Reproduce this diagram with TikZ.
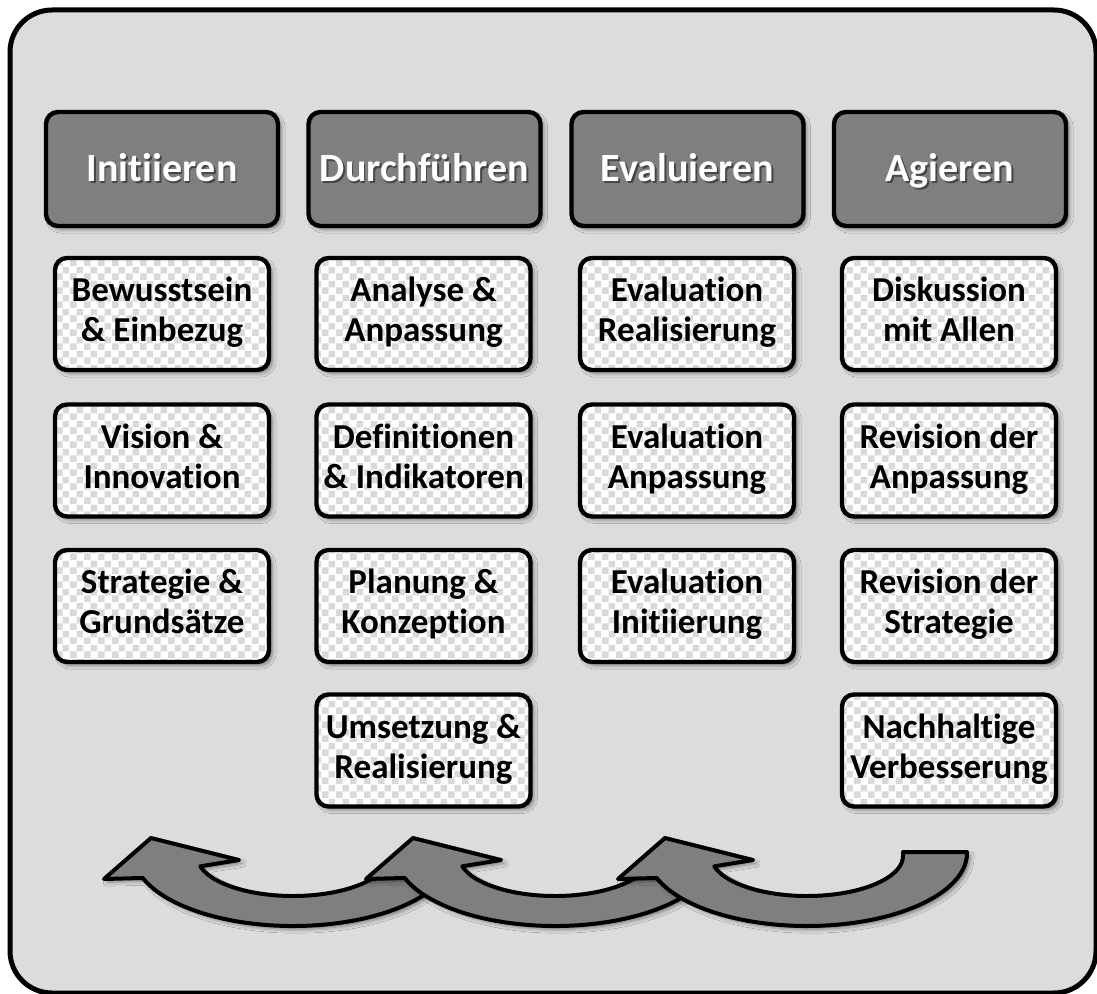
\documentclass[tikz,border=0pt]{standalone}
\usepackage{fontspec}
\setmainfont{Carlito}[RawFeature={-liga;-clig;-calt;-dlig}]
\usetikzlibrary{shadows.blur,patterns,calc}

% checkerboard with 3.5pt squares
\pgfdeclarepatternformonly{checker7}{\pgfqpoint{0pt}{0pt}}{\pgfqpoint{7pt}{7pt}}{\pgfqpoint{7pt}{7pt}}{%
  \pgfpathrectangle{\pgfqpoint{0pt}{0pt}}{\pgfqpoint{3.5pt}{3.5pt}}%
  \pgfpathrectangle{\pgfqpoint{3.5pt}{3.5pt}}{\pgfqpoint{3.5pt}{3.5pt}}%
  \pgfusepath{fill}}

\definecolor{bgc}{HTML}{DCDCDC}
\definecolor{hdr}{HTML}{7F7F7F}
\definecolor{chk}{HTML}{D9D9D9}

% white heading text with a soft dark offset copy behind it
\newcommand\hdrtext[1]{\makebox[0pt][l]{\kern0.9pt\raisebox{-0.9pt}{\color{black!45!hdr}#1}}\color{white}#1}
% strut centred on the cap height of the item font
\newcommand\itstrut{\rule[-4.35pt]{0pt}{15.65pt}}
\newcommand\twolines[2]{\itstrut#1\\\itstrut#2}

\tikzset{
  softshadow/.style={blur shadow={shadow xshift=1.6pt, shadow yshift=-1.6pt,
      shadow blur radius=2pt, shadow opacity=45}},
  frame/.style={draw=black, line width=2.5pt, fill=bgc, rounded corners=21pt},
  header/.style={draw=black, line width=2.2pt, fill=hdr, rounded corners=6pt,
      minimum width=116pt, minimum height=57pt, inner sep=0pt, softshadow,
      text height=16.45pt, text depth=3.55pt,
      font=\fontsize{20}{24}\selectfont\bfseries},
  item/.style={draw=black, line width=2.2pt, softshadow, preaction={fill=white},
      pattern=checker7, pattern color=chk, rounded corners=6pt,
      minimum width=107pt, minimum height=56pt, inner sep=0pt, align=center,
      font=\fontsize{17.5}{20}\selectfont\bfseries},
  arrowbody/.style={draw=black, line width=2pt, fill=hdr, line join=round, softshadow},
  % full curved arrow with its flat tail
  loop arrow/.pic={
    \path[arrowbody] (160,-1) -- (160,0)
      arc[start angle=0, end angle=160, x radius=160, y radius=73]
      -- (-189,26) -- (-142,-15) -- (-54,7)
      -- ($(0,3)+(165:96 and 40)$)
      arc[start angle=165, end angle=0, x radius=96, y radius=40]
      -- (96,-1) -- cycle;
  },
  % same arrow, its tail ending under the next arrow's head
  loop arrow cut/.pic={
    \path[arrowbody] ($(0,0)+(15:160 and 73)$)
      arc[start angle=15, end angle=160, x radius=160, y radius=73]
      -- (-189,26) -- (-142,-15) -- (-54,7)
      -- ($(0,3)+(165:96 and 40)$)
      arc[start angle=165, end angle=25, x radius=96, y radius=40]
      -- cycle;
  }
}

\begin{document}
\begin{tikzpicture}[x=0.5pt, y=-0.5pt]
  \useasboundingbox (0,0) rectangle (1097,994);
  \clip (0,0) rectangle (1097,994);
  \fill[white] (0,0) rectangle (1097,994);

  % outer panel
  \path[frame] (10,10) rectangle (1096,993);

  % column headings
  \node[header] (h1) at (162,169)   {\hdrtext{Initiieren}};
  \node[header] (h2) at (424.5,169) {\hdrtext{Durchführen}};
  \node[header] (h3) at (687.5,169) {\hdrtext{Evaluieren}};
  \node[header] (h4) at (950,169)   {\hdrtext{Agieren}};

  % column 1
  \node[item] (a1) at (162,314)   {\twolines{Bewusstsein}{\& Einbezug}};
  \node[item] (a2) at (162,460.5) {\twolines{Vision \&}{Innovation}};
  \node[item] (a3) at (162,606)   {\twolines{Strategie \&}{Grundsätze}};

  % column 2
  \node[item] (b1) at (423.5,314)   {\twolines{Analyse \&}{Anpassung}};
  \node[item] (b2) at (423.5,460.5) {\twolines{Definitionen}{\& Indikatoren}};
  \node[item] (b3) at (423.5,606)   {\twolines{Planung \&}{Konzeption}};
  \node[item] (b4) at (423.5,750.5) {\twolines{Umsetzung \&}{Realisierung}};

  % column 3
  \node[item] (c1) at (687,314)   {\twolines{Evaluation}{Realisierung}};
  \node[item] (c2) at (687,460.5) {\twolines{Evaluation}{Anpassung}};
  \node[item] (c3) at (687,606)   {\twolines{Evaluation}{Initiierung}};

  % column 4
  \node[item] (d1) at (949,314)   {\twolines{Diskussion}{mit Allen}};
  \node[item] (d2) at (949,460.5) {\twolines{Revision der}{Anpassung}};
  \node[item] (d3) at (949,606)   {\twolines{Revision der}{Strategie}};
  \node[item] (d4) at (949,750.5) {\twolines{Nachhaltige}{Verbesserung}};

  % cycle arrows, drawn left to right so each covers the previous tail
  \pic (p1) at (293,853) {loop arrow cut};
  \pic (p2) at (555,853) {loop arrow cut};
  \pic (p3) at (807,853) {loop arrow};
\end{tikzpicture}
\end{document}
